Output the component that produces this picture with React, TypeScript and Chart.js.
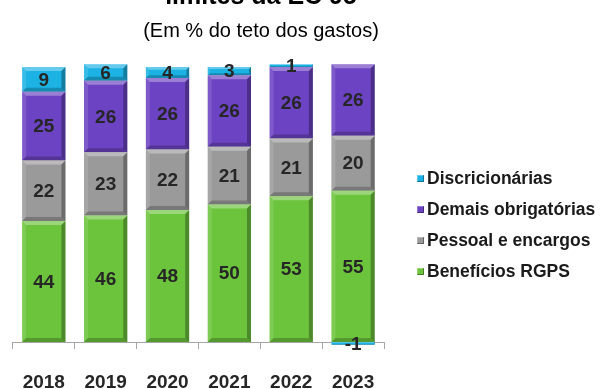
import React, { useEffect, useRef } from "react";
import { Chart, registerables } from "chart.js";

Chart.register(...registerables);

// ---- data ----
const categories = ["2018", "2019", "2020", "2021", "2022", "2023"];
const beneficiosRGPS = [44, 46, 48, 50, 53, 55];
const pessoalEncargos = [22, 23, 22, 21, 21, 20];
const demaisObrigatorias = [25, 26, 26, 26, 26, 26];
const discricionarias = [9, 6, 4, 3, 1, -1];
const seriesNames = ["Benefícios RGPS", "Pessoal e encargos", "Demais obrigatórias", "Discricionárias"];
const seriesColors = ["#6cc43c", "#9a9a9a", "#6c43c2", "#1cb2e4"];
const titleText = "limites da EC 95";
const subtitleText = "(Em % do teto dos gastos)";
const yMin = 0;
const yMax = 104;

const FONT = "'Liberation Sans', Arial, Helvetica, sans-serif";
const TEXT_COLOR = "#262626";

function poly(ctx: CanvasRenderingContext2D, pts: number[][], fill: string) {
  ctx.beginPath();
  ctx.moveTo(pts[0][0], pts[0][1]);
  for (let i = 1; i < pts.length; i++) ctx.lineTo(pts[i][0], pts[i][1]);
  ctx.closePath();
  ctx.fillStyle = fill;
  ctx.fill();
}

const barDecorPlugin = {
  id: "barDecor",
  afterDatasetsDraw(chart: any) {
    const ctx: CanvasRenderingContext2D = chart.ctx;
    // bevel
    chart.data.datasets.forEach((ds: any, di: number) => {
      const meta = chart.getDatasetMeta(di);
      meta.data.forEach((el: any) => {
        const { x, y, base, width } = el.getProps(["x", "y", "base", "width"], true);
        const left = x - width / 2;
        const right = x + width / 2;
        const top = Math.min(y, base);
        const bottom = Math.max(y, base);
        const h = bottom - top;
        const b = Math.min(4, h / 4, width / 4);
        if (b < 0.4) return;
        ctx.save();
        poly(ctx, [[left, top], [right, top], [right - b, top + b], [left + b, top + b]], "rgba(255,255,255,0.32)");
        poly(ctx, [[left, top], [left + b, top + b], [left + b, bottom - b], [left, bottom]], "rgba(255,255,255,0.12)");
        poly(ctx, [[right, top], [right, bottom], [right - b, bottom - b], [right - b, top + b]], "rgba(0,0,0,0.30)");
        poly(ctx, [[left, bottom], [left + b, bottom - b], [right - b, bottom - b], [right, bottom]], "rgba(0,0,0,0.22)");
        ctx.restore();
      });
    });
    // value labels
    ctx.save();
    ctx.font = `bold 19px ${FONT}`;
    ctx.fillStyle = TEXT_COLOR;
    ctx.textAlign = "center";
    ctx.textBaseline = "middle";
    chart.data.datasets.forEach((ds: any, di: number) => {
      const meta = chart.getDatasetMeta(di);
      meta.data.forEach((el: any, i: number) => {
        const { x, y, base } = el.getProps(["x", "y", "base"], true);
        const v = ds.data[i];
        ctx.fillText(String(v), x, (y + base) / 2 + 1);
      });
    });
    ctx.restore();
  },
};

export default function App() {
  const canvasRef = useRef<HTMLCanvasElement | null>(null);

  useEffect(() => {
    if (!canvasRef.current) return;
    const seriesData = [beneficiosRGPS, pessoalEncargos, demaisObrigatorias, discricionarias];
    const chart = new Chart(canvasRef.current, {
      type: "bar",
      data: {
        labels: categories,
        datasets: seriesNames.map((name, i) => ({
          label: name,
          data: seriesData[i],
          backgroundColor: seriesColors[i],
          borderWidth: 0,
          categoryPercentage: 1,
          barPercentage: 0.7,
          clip: false as any,
        })),
      },
      options: {
        animation: false,
        responsive: false,
        devicePixelRatio: 1,
        layout: { padding: { left: 8, right: 220, top: 56, bottom: 0 } },
        plugins: {
          legend: { display: false },
          title: { display: false },
          tooltip: { enabled: false },
        },
        scales: {
          x: {
            stacked: true,
            grid: {
              display: true,
              drawOnChartArea: false,
              drawTicks: true,
              tickLength: 7,
              color: "#a6a6a6",
              offset: true,
            },
            border: { display: true, color: "#a6a6a6", width: 1 },
            ticks: {
              color: TEXT_COLOR,
              font: { family: FONT, size: 19, weight: "bold" },
              padding: 22,
              maxRotation: 0,
            },
            afterFit: (scale: any) => {
              scale.height = 47;
            },
          },
          y: {
            stacked: true,
            display: false,
            min: yMin,
            max: yMax,
          },
        },
      },
      plugins: [barDecorPlugin],
    });
    return () => chart.destroy();
  }, []);

  const legendItems = [...seriesNames].reverse().map((n, idx) => ({
    name: n,
    color: seriesColors[seriesNames.length - 1 - idx],
  }));
  const legendCenters = [178, 209, 240, 271];

  return (
    <div
      style={{
        position: "fixed",
        left: 0,
        top: 0,
        width: 604,
        height: 389,
        overflow: "hidden",
        background: "#ffffff",
        fontFamily: FONT,
      }}
    >
      <canvas
        ref={canvasRef}
        width={604}
        height={389}
        style={{ position: "absolute", left: 0, top: 0, width: 604, height: 389 }}
      />
      <div
        style={{
          position: "absolute",
          left: 0,
          width: 522,
          top: -17,
          textAlign: "center",
          fontWeight: "bold",
          fontSize: 25,
          lineHeight: "25px",
          color: "#000",
          whiteSpace: "nowrap",
        }}
      >
        {titleText}
      </div>
      <div
        style={{
          position: "absolute",
          left: 0,
          width: 522,
          top: 20,
          textAlign: "center",
          fontSize: 20,
          lineHeight: "20px",
          color: "#000",
          whiteSpace: "nowrap",
        }}
      >
        {subtitleText}
      </div>
      {legendItems.map((it, i) => (
        <div
          key={it.name}
          style={{
            position: "absolute",
            left: 417,
            top: legendCenters[i] - 10,
            height: 20,
            display: "flex",
            alignItems: "center",
            whiteSpace: "nowrap",
          }}
        >
          <span
            style={{
              display: "inline-block",
              width: 7,
              height: 7,
              background: it.color,
              boxShadow: "inset -1px -1px 0 rgba(0,0,0,0.35), inset 1px 1px 0 rgba(255,255,255,0.3)",
              marginRight: 3,
            }}
          />
          <span
            style={{
              fontWeight: 700,
              fontSize: 17.5,
              lineHeight: "20px",
              color: "#1a1a1a",
            }}
          >
            {it.name}
          </span>
        </div>
      ))}
    </div>
  );
}
